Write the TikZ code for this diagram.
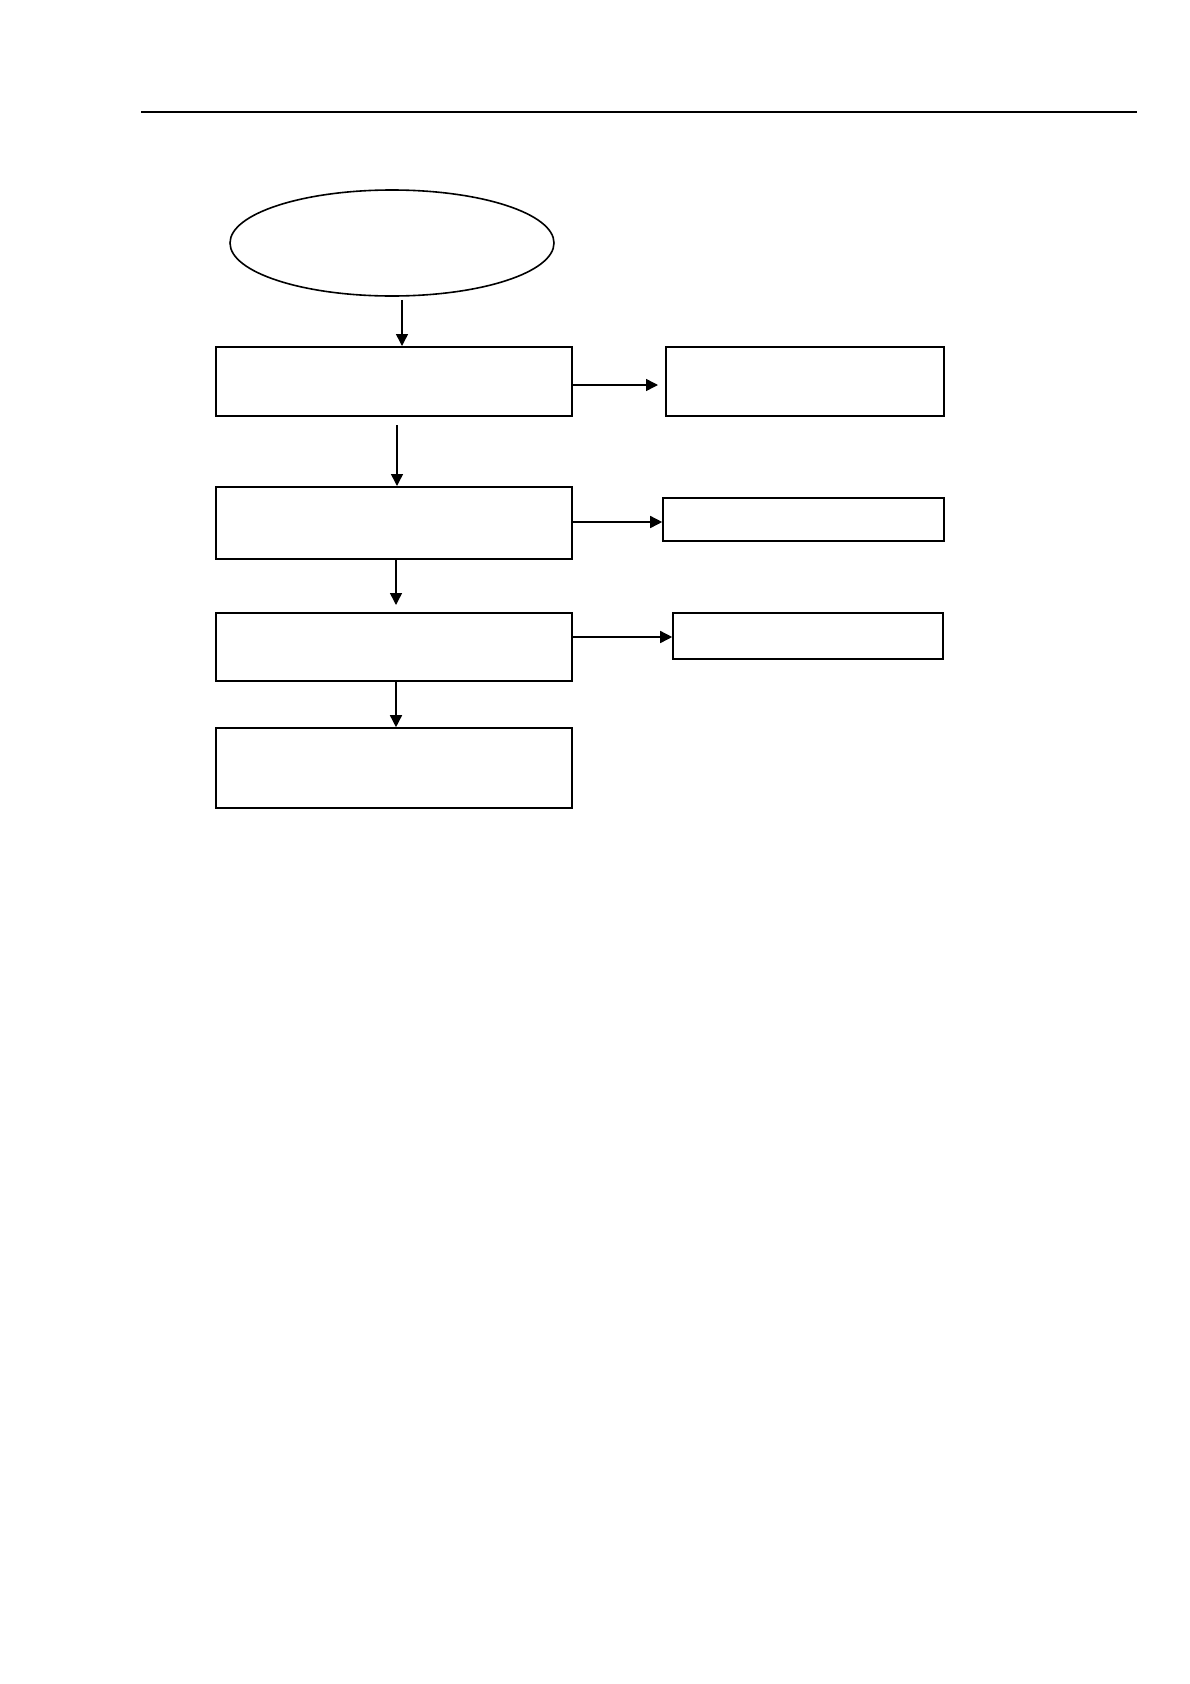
\documentclass[tikz,border=0pt]{standalone}
\usetikzlibrary{shapes.geometric,arrows.meta}
\begin{document}
\begin{tikzpicture}[x=1pt,y=-1pt,
  boxnode/.style={draw,line width=2pt,rectangle,inner sep=0pt,anchor=center},
  ovalnode/.style={draw,line width=1.6pt,ellipse,inner sep=0pt,minimum width=324pt,minimum height=106pt},
  arr/.style={line width=1.5pt,-{Triangle[length=12pt,width=12pt]}},
  rulestyle/.style={line width=2.8pt}]
\useasboundingbox (0,0) rectangle (1190,1684);
% header rule
\coordinate (rl) at (141,112);
\coordinate (rr) at (1137,112);
\draw[rulestyle] (rl) -- (rr);
% nodes
\node[ovalnode] (e) at (392,243) {};
\node[boxnode,minimum width=356pt,minimum height=69pt] (b1) at (394,381.5) {};
\node[boxnode,minimum width=356pt,minimum height=72pt] (b2) at (394,523) {};
\node[boxnode,minimum width=356pt,minimum height=68pt] (b3) at (394,647) {};
\node[boxnode,minimum width=356pt,minimum height=80pt,line width=1.6pt] (b4) at (394,768) {};
\node[boxnode,minimum width=278pt,minimum height=69pt] (r1) at (805,381.5) {};
\node[boxnode,minimum width=281pt,minimum height=43pt,line width=1.6pt] (r2) at (803.5,519.5) {};
\node[boxnode,minimum width=270pt,minimum height=46pt,line width=1.6pt] (r3) at (808,636) {};
% helper columns / rows
\coordinate (c0) at (402,0);
\coordinate (c1) at (397,0);
\coordinate (c2) at (396,0);
\coordinate (y1) at (0,385);
\coordinate (y2) at (0,522);
\coordinate (y3) at (0,637);
% vertical connectors
\draw[arr] ([yshift=-3pt]e.south -| c0) -- (b1.north -| c0);
\draw[arr] ([yshift=-8pt]b1.south -| c1) -- (b2.north -| c1);
\draw[arr] (b2.south -| c2) -- ([yshift=7pt]b3.north -| c2);
\draw[arr] (b3.south -| c2) -- (b4.north -| c2);
% horizontal connectors
\draw[arr] (b1.east |- y1) -- ([xshift=-7pt]r1.west |- y1);
\draw[arr] (b2.east |- y2) -- (r2.west |- y2);
\draw[arr] (b3.east |- y3) -- (r3.west |- y3);
\end{tikzpicture}
\end{document}
